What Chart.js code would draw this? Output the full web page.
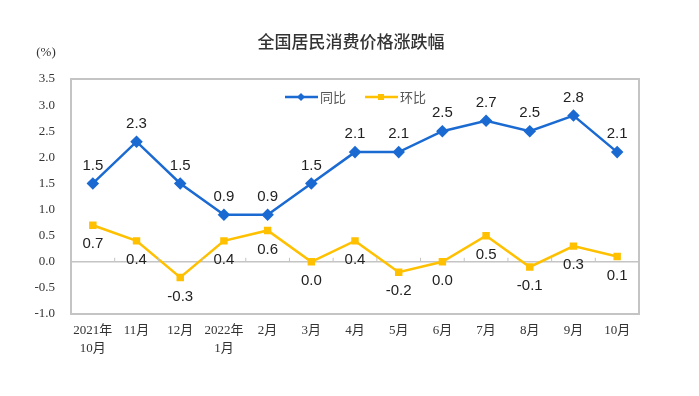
<!DOCTYPE html>
<html>
<head>
<meta charset="utf-8">
<script src="https://cdn.jsdelivr.net/npm/chart.js@4/dist/chart.umd.min.js"></script>
<style>
  html, body { margin: 0; padding: 0; background: #fff; }
  #wrap { width: 699px; height: 396px; }
</style>
</head>
<body>
<div id="wrap"><canvas id="cpi"></canvas></div>
<script>
// Chart data
const months = [['2021年', '10月'], '11月', '12月', ['2022年', '1月'], '2月', '3月', '4月', '5月', '6月', '7月', '8月', '9月', '10月'];
const yoy = [1.5, 2.3, 1.5, 0.9, 0.9, 1.5, 2.1, 2.1, 2.5, 2.7, 2.5, 2.8, 2.1];   // 同比
const mom = [0.7, 0.4, -0.3, 0.4, 0.6, 0.0, 0.4, -0.2, 0.0, 0.5, -0.1, 0.3, 0.1]; // 环比

const BLUE = '#1a6ad2';
const YELLOW = '#ffc000';

// Title, border box, zero-line ticks, (%) unit, legend and point labels
const decorations = {
  id: 'decorations',
  afterDraw(chart) {
    const { ctx, chartArea: a, scales } = chart;
    ctx.save();

    // title
    ctx.fillStyle = '#333';
    ctx.font = '500 17px "Noto Sans CJK SC"';
    ctx.textAlign = 'center';
    ctx.textBaseline = 'middle';
    ctx.fillText('全国居民消费价格涨跌幅', 351, 42);

    // frame
    ctx.strokeStyle = '#c4c4c4';
    ctx.lineWidth = 2;
    ctx.strokeRect(a.left, a.top, a.right - a.left, a.bottom - a.top);

    // little ticks on zero line between categories
    const y0 = scales.y.getPixelForValue(0);
    ctx.lineWidth = 1;
    for (let i = 1; i < months.length; i++) {
      const x = (scales.x.getPixelForTick(i - 1) + scales.x.getPixelForTick(i)) / 2;
      ctx.beginPath();
      ctx.moveTo(x, y0);
      ctx.lineTo(x, y0 - 4);
      ctx.stroke();
    }

    // unit
    ctx.fillStyle = '#333';
    ctx.font = '13px "Liberation Serif"';
    ctx.fillText('(%)', 46, 53);

    // legend
    const ly = 97;
    ctx.lineWidth = 2.5;
    ctx.strokeStyle = BLUE;
    ctx.beginPath(); ctx.moveTo(285, ly); ctx.lineTo(318, ly); ctx.stroke();
    ctx.fillStyle = BLUE;
    ctx.beginPath();
    ctx.moveTo(301, ly - 4); ctx.lineTo(305, ly); ctx.lineTo(301, ly + 4); ctx.lineTo(297, ly);
    ctx.closePath(); ctx.fill();
    ctx.strokeStyle = YELLOW;
    ctx.beginPath(); ctx.moveTo(365, ly); ctx.lineTo(398, ly); ctx.stroke();
    ctx.fillStyle = YELLOW;
    ctx.fillRect(378, ly - 3, 6, 6);

    ctx.fillStyle = '#555';
    ctx.font = '13px "Noto Sans CJK SC"';
    ctx.textAlign = 'left';
    ctx.fillText('同比', 320, ly);
    ctx.fillText('环比', 400, ly);

    // point labels
    ctx.fillStyle = '#222';
    ctx.font = '15px "Liberation Sans"';
    ctx.textAlign = 'center';
    chart.getDatasetMeta(0).data.forEach((pt, i) => {
      ctx.fillText(yoy[i].toFixed(1), pt.x, pt.y - 18);
    });
    chart.getDatasetMeta(1).data.forEach((pt, i) => {
      ctx.fillText(mom[i].toFixed(1), pt.x, pt.y + 19);
    });

    ctx.restore();
  }
};

new Chart(document.getElementById('cpi'), {
  type: 'line',
  data: {
    labels: months,
    datasets: [
      {
        label: '同比',
        data: yoy,
        borderColor: BLUE,
        backgroundColor: BLUE,
        borderWidth: 2.5,
        pointStyle: 'rectRot',
        pointRadius: 4.5,
        pointHoverRadius: 4.5,
        tension: 0
      },
      {
        label: '环比',
        data: mom,
        borderColor: YELLOW,
        backgroundColor: YELLOW,
        borderWidth: 2.5,
        pointStyle: 'rect',
        pointRadius: 3.5,
        pointHoverRadius: 3.5,
        tension: 0
      }
    ]
  },
  options: {
    responsive: true,
    maintainAspectRatio: false,
    animation: false,
    layout: {
      padding: { top: 79, right: 60, bottom: 32, left: 0 }
    },
    plugins: {
      legend: { display: false },
      tooltip: { enabled: false },
      title: { display: false }
    },
    scales: {
      x: {
        offset: true,
        grid: { display: false, drawTicks: false },
        border: { display: false },
        ticks: {
          color: '#333',
          padding: 7,
          maxRotation: 0,
          autoSkip: false,
          font: { family: '"Liberation Serif", "Noto Sans CJK SC"', size: 13, lineHeight: 1.4 }
        },
        afterFit(scale) { scale.height = 50; }
      },
      y: {
        min: -1,
        max: 3.5,
        border: { display: false },
        grid: {
          drawTicks: false,
          lineWidth: 1.5,
          color: ctx => ctx.tick && ctx.tick.value === 0 ? '#c4c4c4' : 'rgba(0,0,0,0)'
        },
        ticks: {
          stepSize: 0.5,
          color: '#333',
          padding: 16,
          font: { family: '"Liberation Serif"', size: 13 },
          callback: v => v.toFixed(1)
        },
        afterFit(scale) { scale.width = 71; }
      }
    }
  },
  plugins: [decorations]
});
</script>
</body>
</html>
